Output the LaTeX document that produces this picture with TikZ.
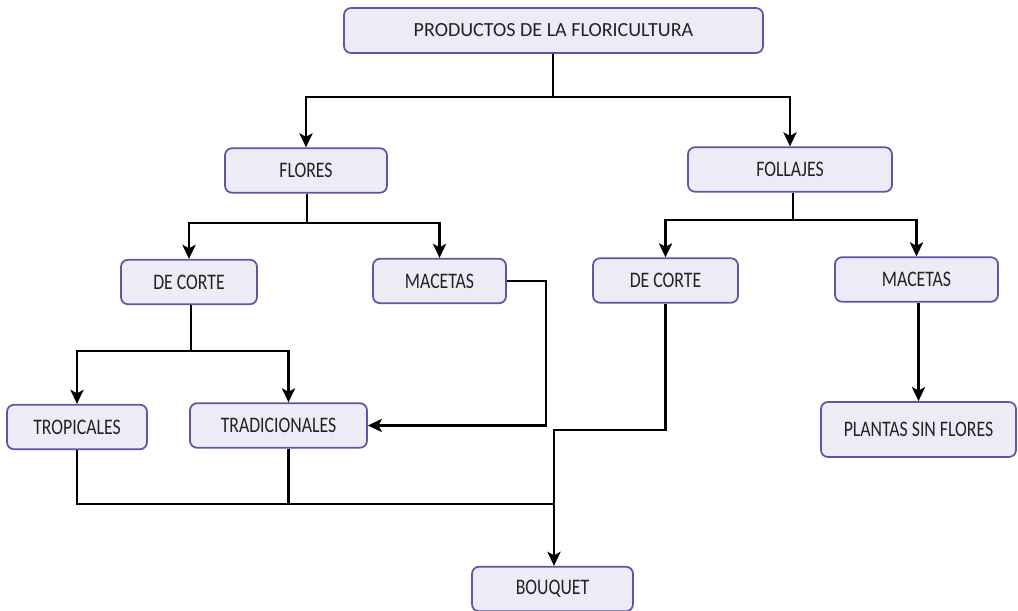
\documentclass[tikz,border=0pt]{standalone}
\usepackage{fontspec}
\setmainfont{Carlito}
\usepackage{tikz}
\usetikzlibrary{arrows.meta}
\usetikzlibrary{shapes,positioning}
\definecolor{borde}{HTML}{5F56A3}
\definecolor{relleno}{HTML}{ECECF6}
\definecolor{letra}{HTML}{222222}
\newcommand{\alto}[1]{\scalebox{1}[1.25]{#1}}
\tikzset{>={Stealth[length=8pt,width=7.5pt,inset=2pt]},
  caja/.style={draw=borde,line width=1pt,fill=relleno,rounded corners=4pt,
    minimum height=0.89cm,inner sep=2pt,text=letra,
    font=\fontsize{10.1}{12}\selectfont},
  linea/.style={line width=1.4pt}}

\begin{document}
\begin{tikzpicture}

  \useasboundingbox (0,0) rectangle (20.36,-12.22);

  % cajas
  \node [caja,minimum width=8.38cm,minimum height=0.9cm,font=\fontsize{11.4}{13}\selectfont] (prod) at (11.07,-0.61) {PRODUCTOS DE LA FLORICULTURA};
  \node [caja,minimum width=3.24cm] (flores) at (6.12,-3.41) {\alto{FLORES}};
  \node [caja,minimum width=4.08cm] (follajes) at (15.8,-3.39) {\alto{FOLLAJES}};
  \node [caja,minimum width=2.72cm] (corteA) at (3.78,-5.64) {\alto{DE CORTE}};
  \node [caja,minimum width=2.66cm] (macA) at (8.79,-5.62) {\alto{MACETAS}};
  \node [caja,minimum width=2.9cm] (corteB) at (13.31,-5.61) {\alto{DE CORTE}};
  \node [caja,minimum width=3.26cm] (macB) at (18.33,-5.59) {\alto{MACETAS}};
  \node [caja,minimum width=2.8cm] (trop) at (1.54,-8.54) {\alto{TROPICALES}};
  \node [caja,minimum width=3.54cm] (trad) at (5.57,-8.51) {\alto{TRADICIONALES}};
  \node [caja,minimum width=3.9cm,minimum height=1.1cm] (plantas) at (18.37,-8.59) {\alto{PLANTAS SIN FLORES}};
  \node [caja,minimum width=3.22cm] (bouquet) at (11.05,-11.78) {\alto{BOUQUET}};

  % puntos de union
  \coordinate (u1) at (11.06,-1.94);
  \coordinate (u2) at (6.14,-4.46);
  \coordinate (u3) at (15.86,-4.4);
  \coordinate (u4) at (3.82,-7.02);
  \coordinate (u5) at (11.08,-8.6);
  \coordinate (u6) at (11.08,-10.08);

  \draw [linea] (prod.south -| u1) -- (u1);
  \draw [linea,->] (u1) -| (flores.north);
  \draw [linea,->] (u1) -| (follajes.north);

  \draw [linea] (flores.south -| u2) -- (u2);
  \draw [linea,->] (u2) -| (corteA.north);
  \draw [linea,->] (u2) -| (macA.north);

  \draw [linea] (follajes.south -| u3) -- (u3);
  \draw [linea,->] (u3) -| (corteB.north);
  \draw [linea,->] (u3) -| (macB.north);

  \draw [linea] (corteA.south -| u4) -- (u4);
  \draw [linea,->] (u4) -| (trop.north);
  \draw [linea,->] (u4) -| ([xshift=.2cm]trad.north);

  \draw [linea,->] (macA.east) -- ++(0.78,0) |- (trad.east);

  \draw [linea,->] (corteB.south) |- (u5) -- (bouquet.north -| u5);
  \draw [linea] (trop.south) |- (u6);
  \draw [linea] ([xshift=.2cm]trad.south) -- ([xshift=.2cm]trad.south |- u6);

  \draw [linea,->] (plantas.north |- macB.south) -- (plantas.north);

\end{tikzpicture}
\end{document}
